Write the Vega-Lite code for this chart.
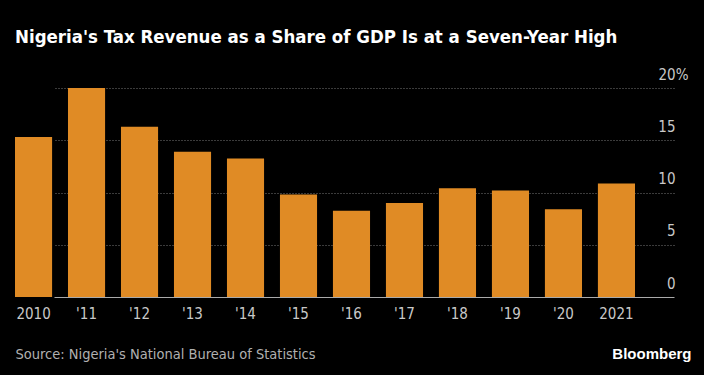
{
  "$schema": "https://vega.github.io/schema/vega-lite/v6.json",
  "width": 659,
  "height": 209,
  "autosize": {"type": "none"},
  "padding": {"left": 15, "top": 88, "right": 30, "bottom": 78},
  "background": "#000000",
  "title": {
    "text": "Nigeria's Tax Revenue as a Share of GDP Is at a Seven-Year High",
    "anchor": "start",
    "frame": "group",
    "font": "'DejaVu Sans Condensed', Roboto, sans-serif",
    "fontSize": 18.5,
    "fontWeight": "bold",
    "color": "#ffffff",
    "baseline": "alphabetic",
    "offset": 0,
    "dy": -6
  },
  "data": {
    "values": [
      {"year": "2010", "share": 15.3},
      {"year": "'11", "share": 20.0},
      {"year": "'12", "share": 16.3},
      {"year": "'13", "share": 13.9},
      {"year": "'14", "share": 13.25},
      {"year": "'15", "share": 9.8},
      {"year": "'16", "share": 8.25},
      {"year": "'17", "share": 9.0},
      {"year": "'18", "share": 10.4},
      {"year": "'19", "share": 10.2},
      {"year": "'20", "share": 8.4},
      {"year": "2021", "share": 10.85}
    ]
  },
  "mark": {"type": "bar", "color": "#E08B25"},
  "encoding": {
    "x": {
      "field": "year",
      "type": "nominal",
      "sort": null,
      "scale": {"range": [0, 620], "paddingInner": 0.3, "paddingOuter": 0},
      "axis": {
        "title": "Source: Nigeria's National Bureau of Statistics",
        "titleX": 0,
        "titleY": 61,
        "titleAlign": "left",
        "titleAnchor": null,
        "titleBaseline": "alphabetic",
        "titleFont": "'DejaVu Sans Condensed', Roboto, sans-serif",
        "titleFontSize": 14.5,
        "titleFontWeight": "normal",
        "titleColor": "#b0b0b0",
        "labelAngle": 0,
        "labelFont": "'DejaVu Sans Condensed', Roboto, sans-serif",
        "labelFontSize": 15,
        "labelColor": "#c8c8c8",
        "labelPadding": 9,
        "ticks": false,
        "domain": false
      }
    },
    "y": {
      "field": "share",
      "type": "quantitative",
      "scale": {"domain": [0, 20], "nice": false},
      "axis": {
        "orient": "right",
        "values": [0, 5, 10, 15, 20],
        "labelExpr": "datum.value == 20 ? '20%' : datum.label",
        "labelAlign": "right",
        "labelPadding": {"condition": {"test": "datum.value == 20", "value": 14}, "value": 1},
        "labelBaseline": "alphabetic",
        "labelOffset": -9,
        "labelFont": "'DejaVu Sans Condensed', Roboto, sans-serif",
        "labelFontSize": 15,
        "labelColor": "#c8c8c8",
        "ticks": false,
        "domain": false,
        "grid": true,
        "gridColor": {"condition": {"test": "datum.value == 0", "value": "#aaaaaa"}, "value": "#777777"},
        "gridDash": {"condition": {"test": "datum.value == 0", "value": []}, "value": [1, 2]},
        "gridWidth": 1,
        "title": "Bloomberg",
        "titleAngle": 0,
        "titleX": 17,
        "titleY": 270,
        "titleAlign": "right",
        "titleBaseline": "alphabetic",
        "titleFont": "Liberation Sans",
        "titleFontSize": 15,
        "titleFontWeight": "bold",
        "titleColor": "#ffffff"
      }
    }
  },
  "config": {"view": {"stroke": null}}
}
